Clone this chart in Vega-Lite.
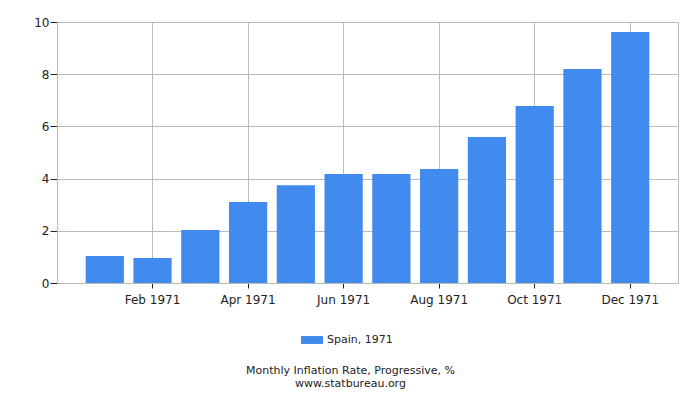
{
  "$schema": "https://vega.github.io/schema/vega-lite/v6.json",
  "width": 621,
  "height": 261,
  "autosize": {"type": "none"},
  "padding": {"left": 57, "top": 22, "right": 22, "bottom": 117},
  "background": "white",
  "config": {
    "font": "DejaVu Sans",
    "view": {"stroke": "#bbbbbb", "strokeWidth": 1}
  },
  "title": {
    "text": "Monthly Inflation Rate, Progressive, %",
    "subtitle": "www.statbureau.org",
    "orient": "bottom",
    "anchor": "middle",
    "dx": -17,
    "dy": 1,
    "fontSize": 11,
    "fontWeight": "normal",
    "color": "#222222",
    "subtitleFontSize": 11,
    "subtitleColor": "#222222",
    "subtitlePadding": 2,
    "offset": 19
  },
  "data": {
    "values": [
      {"month": "Jan 1971", "value": 1.03, "series": "Spain, 1971"},
      {"month": "Feb 1971", "value": 0.96, "series": "Spain, 1971"},
      {"month": "Mar 1971", "value": 2.03, "series": "Spain, 1971"},
      {"month": "Apr 1971", "value": 3.1, "series": "Spain, 1971"},
      {"month": "May 1971", "value": 3.75, "series": "Spain, 1971"},
      {"month": "Jun 1971", "value": 4.18, "series": "Spain, 1971"},
      {"month": "Jul 1971", "value": 4.18, "series": "Spain, 1971"},
      {"month": "Aug 1971", "value": 4.37, "series": "Spain, 1971"},
      {"month": "Sep 1971", "value": 5.59, "series": "Spain, 1971"},
      {"month": "Oct 1971", "value": 6.78, "series": "Spain, 1971"},
      {"month": "Nov 1971", "value": 8.2, "series": "Spain, 1971"},
      {"month": "Dec 1971", "value": 9.62, "series": "Spain, 1971"}
    ]
  },
  "mark": {"type": "bar"},
  "encoding": {
    "x": {
      "field": "month",
      "type": "ordinal",
      "sort": null,
      "scale": {"paddingInner": 0.2, "paddingOuter": 0.6},
      "axis": {
        "title": null,
        "values": ["Feb 1971", "Apr 1971", "Jun 1971", "Aug 1971", "Oct 1971", "Dec 1971"],
        "labelAngle": 0,
        "labelFontSize": 12,
        "labelColor": "#222222",
        "labelPadding": 6,
        "grid": true,
        "gridColor": "#bbbbbb",
        "domainColor": "#bbbbbb",
        "tickColor": "#222222",
        "tickSize": 5,
        "bandPosition": 0.5
      }
    },
    "y": {
      "field": "value",
      "type": "quantitative",
      "scale": {"domain": [0, 10], "nice": false},
      "axis": {
        "title": null,
        "values": [0, 2, 4, 6, 8, 10],
        "labelFontSize": 12,
        "labelColor": "#222222",
        "labelPadding": 1,
        "gridColor": "#bbbbbb",
        "domainColor": "#bbbbbb",
        "tickColor": "#222222",
        "tickSize": 7
      }
    },
    "color": {
      "field": "series",
      "type": "nominal",
      "scale": {"range": ["#418bee"]},
      "legend": {
        "title": null,
        "orient": "none",
        "legendX": 244,
        "legendY": 307,
        "padding": 0,
        "symbolType": "M-1,-0.36H1V0.36H-1Z",
        "symbolSize": 484,
        "symbolStrokeWidth": 0,
        "labelOffset": 4,
        "labelFontSize": 11,
        "labelColor": "#222222"
      }
    }
  }
}
